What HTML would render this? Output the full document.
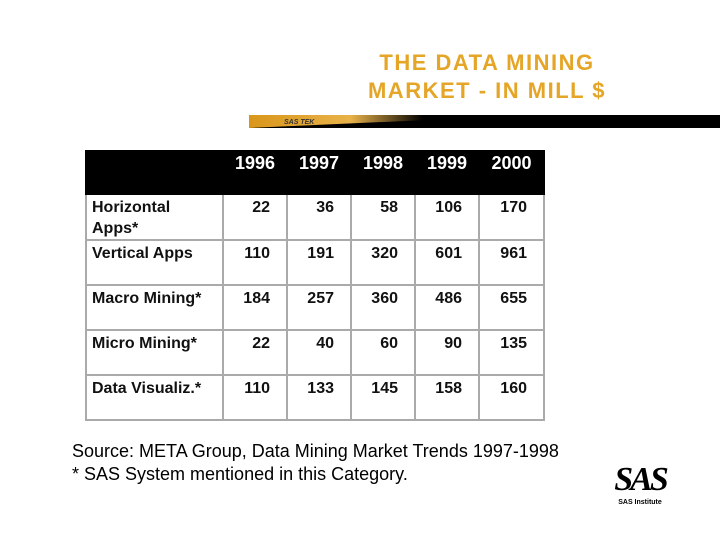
<!DOCTYPE html>
<html><head><meta charset="utf-8"><style>
body{margin:0;width:720px;height:540px;background:#fff;position:relative;overflow:hidden;font-family:"Liberation Sans",Arial,sans-serif}
.title{position:absolute;left:300px;width:374px;top:49px;text-align:center;color:#E5A526;font-weight:bold;font-size:22px;line-height:28px;letter-spacing:1.5px}
table{position:absolute;left:85px;top:150px;border-collapse:collapse;font-weight:bold;font-size:16px}
td,th{border:2px solid #aaa;padding:0;vertical-align:top;box-sizing:border-box}
th{background:#000;color:#fff;font-size:18px;font-weight:bold;height:43px;border-color:#000;text-align:center;padding-top:1px}
td{height:45px;text-align:right;padding-right:16px;padding-top:2px;line-height:21px;color:#111}
td.l{text-align:left;padding-left:5px;padding-right:0}
.src{position:absolute;left:72px;top:440px;font-size:18px;line-height:23px;color:#000}
</style></head><body>
<div class="title">THE DATA MINING<br>MARKET - IN MILL $</div>
<svg style="position:absolute;left:249px;top:113px" width="471" height="16">
<defs><linearGradient id="g" x1="0" x2="1"><stop offset="0" stop-color="#D9961A"/><stop offset="0.35" stop-color="#E8B24A"/><stop offset="0.6" stop-color="#000"/></linearGradient></defs>
<rect x="0" y="2" width="471" height="13" fill="#000"/>
<polygon points="0,2 290,2 0,15" fill="url(#g)"/>
<text x="35" y="11" font-size="7" font-weight="bold" font-style="italic" fill="#333" font-family="Liberation Sans">SAS TEK</text>
</svg>
<table>
<tr><th style="width:137px"></th><th style="width:64px">1996</th><th style="width:64px">1997</th><th style="width:64px">1998</th><th style="width:64px">1999</th><th style="width:65px">2000</th></tr>
<tr><td class="l">Horizontal<br>Apps*</td><td>22</td><td>36</td><td>58</td><td>106</td><td>170</td></tr>
<tr><td class="l">Vertical Apps</td><td>110</td><td>191</td><td>320</td><td>601</td><td>961</td></tr>
<tr><td class="l">Macro Mining*</td><td>184</td><td>257</td><td>360</td><td>486</td><td>655</td></tr>
<tr><td class="l">Micro Mining*</td><td>22</td><td>40</td><td>60</td><td>90</td><td>135</td></tr>
<tr><td class="l">Data Visualiz.*</td><td>110</td><td>133</td><td>145</td><td>158</td><td>160</td></tr>
</table>
<div class="src">Source: META Group, Data Mining Market Trends 1997-1998<br>* SAS System mentioned in this Category.</div>
<div style="position:absolute;left:608px;top:462px;width:64px;text-align:center">
<div style="font-family:'Liberation Serif',serif;font-style:italic;font-weight:bold;font-size:34px;line-height:36px;letter-spacing:-3px">SAS</div>
<div style="font-size:7px;font-weight:bold;line-height:9px">SAS Institute</div>
</div>
</body></html>
